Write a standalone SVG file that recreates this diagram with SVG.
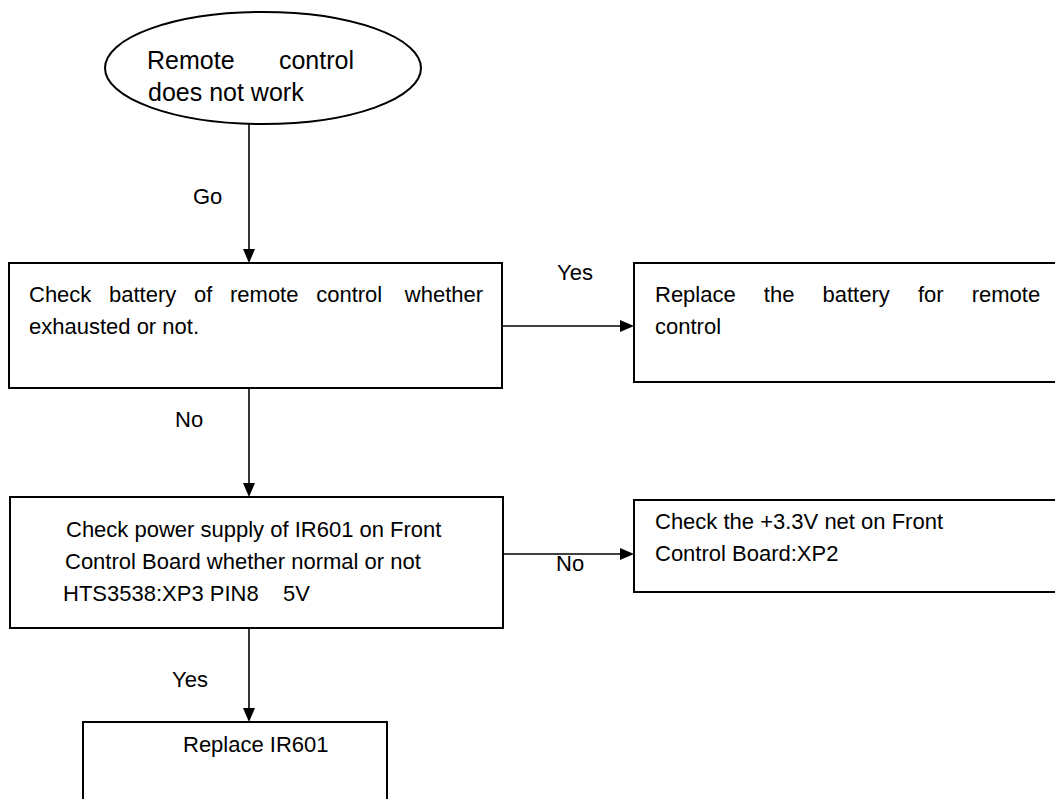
<svg xmlns="http://www.w3.org/2000/svg" width="1055" height="799" viewBox="0 0 1055 799">
<style>
text{font-family:"Liberation Sans",Arial,sans-serif;font-size:22px;fill:#000;white-space:pre}
.big{font-size:25px}
.box{fill:#fff;stroke:#000;stroke-width:2}
.ln{stroke:#000;stroke-width:1.6;fill:none}
.ah{fill:#000}
</style>
<rect x="0" y="0" width="1055" height="799" fill="#fff"/>
<g id="start">
<ellipse class="box" cx="263" cy="68" rx="158" ry="56"/>
<text class="big" x="147" y="69">Remote</text>
<text class="big" x="354" y="69" text-anchor="end">control</text>
<text class="big" x="148" y="101">does not work</text>
</g>
<g id="n1">
<rect class="box" x="9" y="263" width="493" height="125"/>
<text y="302"><tspan x="29">Check</tspan><tspan x="109">battery</tspan><tspan x="194">of</tspan><tspan x="230">remote</tspan><tspan x="316.2">control</tspan><tspan x="404.8">whether</tspan></text>
<text x="29" y="334">exhausted or not.</text>
</g>
<g id="n2">
<rect class="box" x="634" y="263" width="440" height="119"/>
<text y="302"><tspan x="655">Replace</tspan><tspan x="763.8">the</tspan><tspan x="822.5">battery</tspan><tspan x="917.9">for</tspan><tspan x="971.7">remote</tspan></text>
<text x="655" y="334">control</text>
</g>
<g id="n3">
<rect class="box" x="10" y="497" width="493" height="131"/>
<text x="66" y="537">Check power supply of IR601 on Front</text>
<text x="65" y="569">Control Board whether normal or not</text>
<text x="63" y="601">HTS3538:XP3 PIN8    5V</text>
</g>
<g id="n4">
<rect class="box" x="634" y="500" width="440" height="92"/>
<text x="655" y="529">Check the +3.3V net on Front</text>
<text x="655" y="561">Control Board:XP2</text>
</g>
<g id="n5">
<rect class="box" x="83" y="722" width="304" height="100"/>
<text x="183" y="752">Replace IR601</text>
</g>
<g id="connectors">
<line class="ln" x1="249" y1="123" x2="249" y2="250"/>
<polygon class="ah" points="249,263 243,249 255,249"/>
<text x="193" y="204">Go</text>
<line class="ln" x1="502" y1="326" x2="621" y2="326"/>
<polygon class="ah" points="634,326 620,320 620,332"/>
<text x="557" y="280">Yes</text>
<line class="ln" x1="249" y1="388" x2="249" y2="484"/>
<polygon class="ah" points="249,497 243,483 255,483"/>
<text x="175" y="427">No</text>
<line class="ln" x1="503" y1="554" x2="621" y2="554"/>
<polygon class="ah" points="634,554 620,548 620,560"/>
<text x="556" y="571">No</text>
<line class="ln" x1="249" y1="628" x2="249" y2="709"/>
<polygon class="ah" points="249,722 243,708 255,708"/>
<text x="172" y="687">Yes</text>
</g>
</svg>
